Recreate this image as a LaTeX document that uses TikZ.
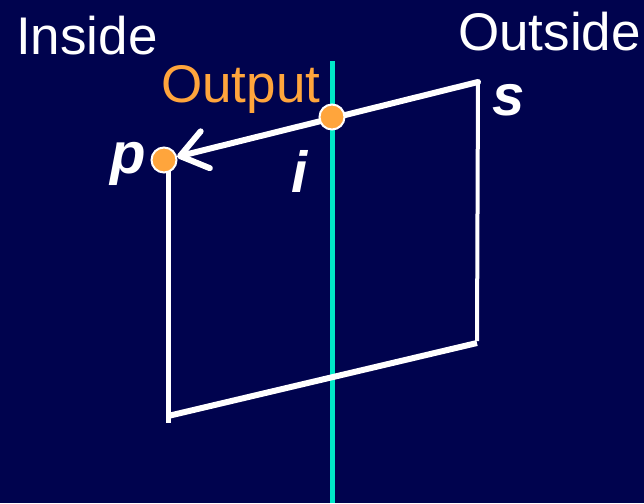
\documentclass[tikz,border=0pt]{standalone}
\usepackage{fontspec}
\setmainfont{Liberation Sans}
\usetikzlibrary{arrows.meta, positioning}
\definecolor{bgnavy}{RGB}{0,3,78}
\definecolor{clipcyan}{RGB}{0,232,200}
\definecolor{dotorange}{RGB}{255,165,60}

\begin{document}
\begin{tikzpicture}[x=1pt,y=-1pt,
    edge/.style={white,line width=5pt},
    vertex/.style={circle,fill=dotorange,draw=white,line width=2pt,minimum size=25pt,inner sep=0pt},
    sidetext/.style={anchor=base west,inner sep=0pt,font=\fontsize{53}{60}\selectfont},
    vname/.style={anchor=base west,inner sep=0pt,white,font=\fontsize{58}{64}\selectfont\bfseries\itshape}]
        \fill[bgnavy] (0,0) rectangle (644,503);
        \useasboundingbox (0,0) rectangle (644,503);
        % corners of the polygon
        \coordinate (p) at (168,160);
        \coordinate (pl) at (168,423);
        \coordinate (ql) at (168,416);
        \coordinate (s) at (478,82);
        \coordinate (sr) at (477,341);
        \coordinate (qr) at (477,343);
        % clip boundary
        \coordinate (cuttop) at (332,61);
        \coordinate (cutbot) at (332,503);
        \draw[clipcyan,line width=5pt] (cuttop) -- (cutbot);
        \draw[edge] (p) -- (pl);
        \draw[edge,line width=4pt] (s) -- (sr);
        \draw[edge,line width=6pt] (ql) -- (qr);
        \node[vertex] (pdot) at (164,160) {};
        \draw[edge,line width=6pt,line cap=round,-{Straight Barb[round,length=26pt,width=38pt]}] (s) -- (pdot);
        \node[vertex] (idot) at (332,117) {};
        % texts
        \node[sidetext,white] (inside) at (16,54) {Inside};
        \node[sidetext,white] (outside) at (458,50) {Outside};
        \node[sidetext,dotorange] (output) at (161,102) {Output};
        \node[vname] (slab) at (492,115) {s};
        \node[vname] (ilab) at (291,192) {i};
        \node[vname] (plab) at (110,173) {p};
    \end{tikzpicture}
\end{document}
